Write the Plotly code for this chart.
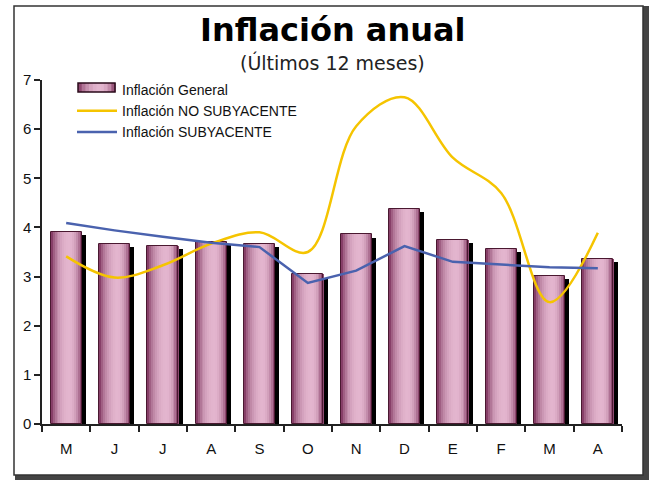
import plotly.graph_objects as go

# ---- data ----
months = ["M", "J", "J", "A", "S", "O", "N", "D", "E", "F", "M", "A"]
inflacion_general = [3.91, 3.67, 3.63, 3.71, 3.67, 3.05, 3.86, 4.38, 3.75, 3.57, 3.02, 3.36]
inflacion_no_subyacente = [3.41, 2.98, 3.23, 3.67, 3.90, 3.50, 6.06, 6.65, 5.42, 4.70, 2.48, 3.89]
inflacion_subyacente = [4.09, 3.94, 3.81, 3.69, 3.60, 2.87, 3.12, 3.62, 3.30, 3.25, 3.19, 3.17]
y_ticks = [0, 1, 2, 3, 4, 5, 6, 7]

x = list(range(len(months)))

# ---- layout geometry (pixels) ----
W, H = 653, 481
L, R, T, B = 42, 31, 80, 57
pw, ph = W - L - R, H - T - B


def px_x(p):
    return (p - L) / pw


def px_y(p):
    return (H - B - p) / ph


def grad_color(t):
    dark = (112, 34, 78)
    light = (228, 182, 207)
    d = (t - 0.6) / (0.6 if t < 0.6 else 0.4)
    w = max(0.0, 1 - d * d) ** 0.7
    c = tuple(int(dark[k] + (light[k] - dark[k]) * w) for k in range(3))
    return "rgb(%d,%d,%d)" % c


fig = go.Figure()

bar_w = 0.64
shadow_dx = 0.09
shadow_dy = 0.07

# shadow
fig.add_trace(go.Bar(
    x=x, y=[v - shadow_dy for v in inflacion_general],
    width=bar_w, offset=-bar_w / 2 + shadow_dx,
    marker=dict(color="#000000", line=dict(width=0)),
    showlegend=False, hoverinfo="skip"))

# cylinder gradient stripes
N = 16
for i in range(N):
    t = (i + 0.5) / N
    sw = bar_w / N
    fig.add_trace(go.Bar(
        x=x, y=inflacion_general,
        width=sw * 1.25, offset=-bar_w / 2 + i * sw,
        marker=dict(color=grad_color(t), line=dict(width=0)),
        showlegend=False, hoverinfo="skip"))

# outline
fig.add_trace(go.Bar(
    x=x, y=inflacion_general, name="Inflación General",
    width=bar_w, offset=-bar_w / 2,
    marker=dict(color="rgba(0,0,0,0)", line=dict(color="#4a1830", width=1)),
    showlegend=False))
# legend entry (swatch drawn with shapes below)
fig.add_trace(go.Scatter(
    x=[None], y=[None], name="Inflación General", mode="lines",
    line=dict(color="rgba(0,0,0,0)", width=1), showlegend=True))

fig.add_trace(go.Scatter(
    x=x, y=inflacion_no_subyacente, name="Inflación NO SUBYACENTE",
    mode="lines", line=dict(color="#f5c400", width=2.5, shape="spline", smoothing=1.0)))
fig.add_trace(go.Scatter(
    x=x, y=inflacion_subyacente, name="Inflación SUBYACENTE",
    mode="lines", line=dict(color="#4a62ae", width=2.5)))

# frame with shadow
fig.add_shape(type="rect", xref="paper", yref="paper",
              x0=px_x(17), x1=px_x(647), y0=px_y(8), y1=px_y(478),
              line=dict(color="#444444", width=4), fillcolor="#444444", layer="below")
fig.add_shape(type="rect", xref="paper", yref="paper",
              x0=px_x(14), x1=px_x(643), y0=px_y(6), y1=px_y(475),
              line=dict(color="#333333", width=1.5), fillcolor="white", layer="below")

# legend bar swatch
sx0, sx1, sy0, sy1 = 78, 115, 83, 92
ns = 10
for i in range(ns):
    t = (i + 0.5) / ns
    fig.add_shape(type="rect", xref="paper", yref="paper",
                  x0=px_x(sx0 + (sx1 - sx0) * i / ns), x1=px_x(sx0 + (sx1 - sx0) * (i + 1) / ns + 0.6),
                  y0=px_y(sy0), y1=px_y(sy1),
                  line=dict(width=0), fillcolor=grad_color(t), layer="above")
fig.add_shape(type="rect", xref="paper", yref="paper",
              x0=px_x(sx0), x1=px_x(sx1), y0=px_y(sy0), y1=px_y(sy1),
              line=dict(color="#2a0a1a", width=1.5), fillcolor="rgba(0,0,0,0)", layer="above")

fig.add_annotation(text="<b>Inflación anual</b>", xref="paper", yref="paper",
                   x=px_x(333), y=px_y(30), xanchor="center", yanchor="middle", showarrow=False,
                   font=dict(family="DejaVu Sans", size=32, color="#000000"))
fig.add_annotation(text="(Últimos 12 meses)", xref="paper", yref="paper",
                   x=px_x(332), y=px_y(63), xanchor="center", yanchor="middle", showarrow=False,
                   font=dict(family="DejaVu Sans", size=19, color="#222222"))

fig.update_layout(
    width=W, height=H,
    margin=dict(l=L, r=R, t=T, b=B, pad=0),
    paper_bgcolor="white", plot_bgcolor="rgba(0,0,0,0)",
    barmode="overlay", bargap=0,
    showlegend=True,
    legend=dict(x=px_x(72), y=px_y(74), xanchor="left", yanchor="top",
                bgcolor="rgba(0,0,0,0)", font=dict(family="Liberation Sans", size=14, color="#111111"),
                tracegroupgap=0, itemwidth=40, traceorder="normal"),
    font=dict(family="Liberation Sans", size=15, color="#111111"),
)

fig.update_xaxes(
    range=[-0.5, len(months) - 0.5],
    tickmode="array", tickvals=x, ticktext=months, ticks="",
    showline=True, linecolor="#222222", linewidth=1.5,
    showgrid=False, zeroline=False,
    ticklabelstandoff=10,
    tickfont=dict(family="Liberation Sans", size=15),
    minor=dict(tickmode="linear", tick0=-0.5, dtick=1, ticks="outside",
               ticklen=6, tickcolor="#222222", tickwidth=1.5),
)
fig.update_yaxes(
    range=[0, 7], tickmode="array", tickvals=y_ticks,
    ticks="outside", ticklen=6, tickcolor="#222222", tickwidth=1.5,
    showline=True, linecolor="#222222", linewidth=1.5,
    showgrid=False, zeroline=False,
    tickfont=dict(family="Liberation Sans", size=15),
)

fig.write_html("out.html", config={"displayModeBar": False},
               post_script="document.body.style.margin='0';")
